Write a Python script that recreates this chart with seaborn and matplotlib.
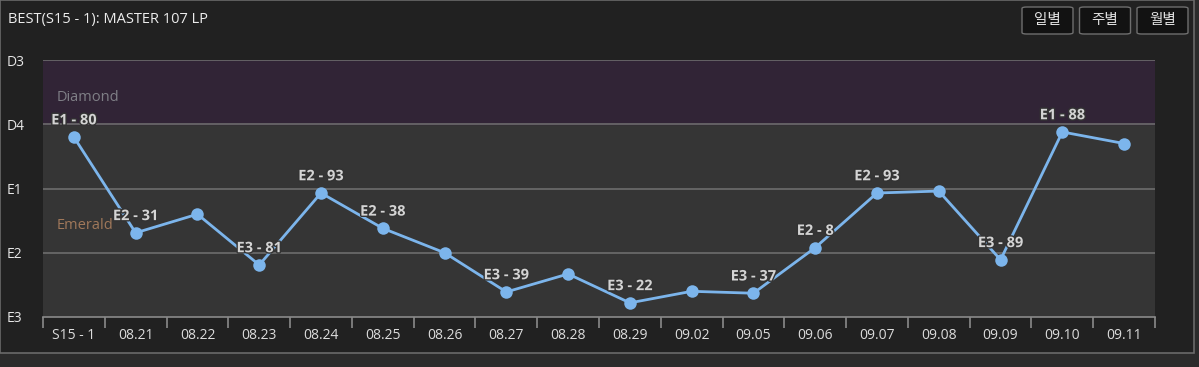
import numpy as np
import pandas as pd
import seaborn as sns
import matplotlib.pyplot as plt
import matplotlib.patheffects as pe
from matplotlib.patches import Rectangle, FancyBboxPatch

# dados
dates = ["S15 - 1", "08.21", "08.22", "08.23", "08.24", "08.25", "08.26", "08.27", "08.28",
         "08.29", "09.02", "09.05", "09.06", "09.07", "09.08", "09.09", "09.10", "09.11"]
# pontos: E3 = 0, E2 = 100, E1 = 200, D4 = 300, D3 = 400
points = [280, 131, 160, 81, 193, 138, 100, 39, 67, 22, 40, 37, 108, 193, 196, 89, 288, 270]
point_labels = ["E1 - 80", "E2 - 31", "", "E3 - 81", "E2 - 93", "E2 - 38", "", "E3 - 39", "",
                "E3 - 22", "", "E3 - 37", "E2 - 8", "E2 - 93", "", "E3 - 89", "E1 - 88", ""]
tier_ticks = [0, 100, 200, 300, 400]
tier_names = ["E3", "E2", "E1", "D4", "D3"]
title = "BEST(S15 - 1): MASTER 107 LP"
buttons = ["일별", "주별", "월별"]

FONT = ["Open Sans", "Noto Sans CJK KR", "DejaVu Sans"]


def main():
    sns.set_style("dark")
    plt.rcParams["font.family"] = FONT

    W, H = 1199, 367
    fig = plt.figure(figsize=(W / 100, H / 100), dpi=100)
    fig.patch.set_facecolor("#2b2b2b")

    # painel
    fig.patches.append(Rectangle((0, 1 - 353 / H), 1194 / W, 353 / H, transform=fig.transFigure,
                                 facecolor="#212121", edgecolor="#6a6a6a", linewidth=1.2, zorder=-5))

    ax = fig.add_axes([43 / W, 1 - 317 / H, (1155 - 43) / W, (317 - 60) / H])
    ax.set_zorder(2)
    ax.set_facecolor("#353535")

    ax.axhspan(300, 400, color="#312436", zorder=0)
    for t in tier_ticks[1:]:
        ax.axhline(t, color="#727272", linewidth=1.1, zorder=1)

    df = pd.DataFrame({"date": dates, "points": points, "label": point_labels})
    df["x"] = np.arange(len(df))
    sns.lineplot(data=df, x="x", y="points", ax=ax, color="#7cb5ec", linewidth=2,
                 marker="o", markersize=9, markeredgewidth=0, zorder=3)

    for _, row in df.iterrows():
        if row["label"]:
            ax.annotate(row["label"], (row["x"], row["points"]), xytext=(0, 7),
                        textcoords="offset points", ha="center", va="bottom",
                        fontsize=10.5, fontweight="bold", color="#d4d4d4", zorder=4,
                        path_effects=[pe.withStroke(linewidth=2, foreground="#333333")])

    ax.text(0.012, 342, "Diamond", fontsize=10.5, color="#7f7f86", va="center", ha="left",
            transform=ax.get_yaxis_transform())
    ax.text(0.012, 143, "Emerald", fontsize=10.5, color="#a0785a", va="center", ha="left",
            transform=ax.get_yaxis_transform())

    ax.set_xlim(-0.5, len(dates) - 0.5)
    ax.set_ylim(0, 400)
    ax.set_xticks(df["x"], dates)
    ax.set_xticks(np.arange(len(dates) + 1) - 0.5, minor=True)
    ax.tick_params(axis="x", which="major", bottom=True, length=0, pad=8, labelsize=10,
                   labelcolor="#dcdcdc")
    ax.tick_params(axis="x", which="minor", bottom=True, length=8, width=1.2, color="#8a8a8a",
                   direction="out")
    ax.set_yticks(tier_ticks, tier_names)
    ax.tick_params(axis="y", length=0, pad=26, labelsize=10, labelcolor="#e6e6e6")
    for lab in ax.get_yticklabels():
        lab.set_horizontalalignment("left")
    ax.set_xlabel("")
    ax.set_ylabel("")
    ax.grid(False)
    for s in ["top", "left", "right"]:
        ax.spines[s].set_visible(False)
    ax.spines["bottom"].set_color("#8a8a8a")
    ax.spines["bottom"].set_linewidth(1.2)

    fig.text(8 / W, 1 - 20 / H, title, fontsize=10.5, color="#ececec", va="center", ha="left")

    # botões
    for i, b in enumerate(buttons):
        x0 = 1022 + i * 57.5
        fig.patches.append(FancyBboxPatch((x0 / W, 1 - 34 / H), 51 / W, 27 / H,
                                          boxstyle="round,pad=0,rounding_size=0.004",
                                          transform=fig.transFigure, facecolor="#121212",
                                          edgecolor="#6e6e6e", linewidth=1))
        fig.text((x0 + 25.5) / W, 1 - 20.5 / H, b, fontsize=10.5, color="#e2e2e2",
                 ha="center", va="center")

    fig.savefig("out.png", dpi=100, facecolor=fig.get_facecolor())
    plt.close(fig)


if __name__ == "__main__":
    main()
